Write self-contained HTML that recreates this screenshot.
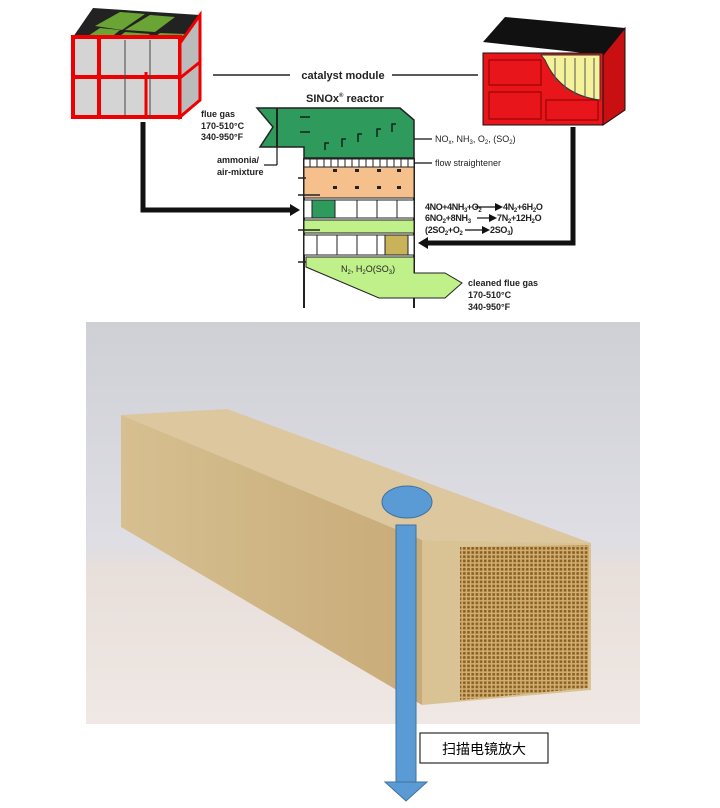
<!DOCTYPE html>
<html><head><meta charset="utf-8"><style>
html,body{margin:0;padding:0;background:#fff;width:720px;height:808px;overflow:hidden}
svg{display:block}
text{font-family:"Liberation Sans",Arial,sans-serif;font-weight:bold;fill:#222}
</style></head><body>
<svg width="720" height="808" viewBox="0 0 720 808" xmlns="http://www.w3.org/2000/svg">
<defs>
<linearGradient id="bg" x1="0" y1="0" x2="0" y2="1">
<stop offset="0" stop-color="#cfcfd6"/><stop offset="0.55" stop-color="#dedee4"/><stop offset="0.62" stop-color="#e8dfdb"/><stop offset="1" stop-color="#f0e8e4"/></linearGradient>
<linearGradient id="side" x1="0" y1="0" x2="1" y2="0"><stop offset="0" stop-color="#d6bf90"/><stop offset="1" stop-color="#c8ab78"/></linearGradient>
<pattern id="hc" width="4.2" height="4.2" patternUnits="userSpaceOnUse"><rect width="4.2" height="4.2" fill="#d0ad70"/><rect x="1" y="1" width="2.6" height="2.6" fill="#8a5e22"/></pattern>
</defs>

<polygon points="73,37 93,8 200,15 180,43" fill="#222"/>
<polygon points="95,26 120,12 145,14 122,30" fill="#6aa435"/>
<polygon points="125,30 150,15 175,17 155,32" fill="#6aa435"/>
<polygon points="88,36 100,28 120,30 108,40" fill="#6aa435"/>
<polygon points="115,40 125,32 150,34 140,42" fill="#6aa435"/>
<polygon points="148,42 160,33 185,34 175,43" fill="#6aa435"/>
<rect x="73" y="37" width="107" height="80" fill="#d4d4d4" stroke="#e00" stroke-width="4"/>
<polygon points="180,43 200,15 200,100 180,117" fill="#bbb" stroke="#e00" stroke-width="3"/>
<line x1="73" y1="77" x2="180" y2="77" stroke="#e00" stroke-width="4"/>
<line x1="99" y1="37" x2="99" y2="117" stroke="#e00" stroke-width="4"/>
<line x1="125" y1="40" x2="125" y2="117" stroke="#444" stroke-width="1"/>
<line x1="150" y1="40" x2="150" y2="117" stroke="#444" stroke-width="1"/>
<line x1="146" y1="72" x2="146" y2="117" stroke="#e00" stroke-width="3"/>
<line x1="180" y1="78" x2="200" y2="62" stroke="#e00" stroke-width="3"/>

<polygon points="483,42 505,17 625,28 603,55" fill="#111"/>
<rect x="483" y="53" width="120" height="72" fill="#e8161a" stroke="#111" stroke-width="1"/>
<polygon points="603,55 625,28 625,110 603,125" fill="#c80f12" stroke="#111" stroke-width="1"/>
<rect x="489" y="60" width="52" height="25" fill="none" stroke="#8a0000" stroke-width="1"/>
<rect x="489" y="92" width="52" height="27" fill="none" stroke="#8a0000" stroke-width="1"/>
<rect x="546" y="100" width="52" height="20" fill="none" stroke="#8a0000" stroke-width="1"/>
<path d="M541,55 L600,55 L600,100 Q560,95 545,60 Z" fill="#f4f29a" stroke="#333"/>
<g stroke="#555" stroke-width="1"><line x1="555" y1="58" x2="555" y2="82"/><line x1="565" y1="58" x2="565" y2="92"/><line x1="575" y1="58" x2="575" y2="96"/><line x1="585" y1="58" x2="585" y2="98"/><line x1="594" y1="58" x2="594" y2="99"/></g>

<line x1="213" y1="75" x2="290" y2="75" stroke="#222" stroke-width="1.5"/>
<line x1="392" y1="75" x2="478" y2="75" stroke="#222" stroke-width="1.5"/>
<text x="343" y="79" font-size="11" text-anchor="middle">catalyst module</text>
<text x="306" y="102" font-size="11">SINOx<tspan font-size="6" dy="-5">®</tspan><tspan dy="5"> reactor</tspan></text>

<polygon points="257,108 400,108 414,120 414,158 304,158 304,147 260,147 273,127" fill="#2e9a5c" stroke="#222" stroke-width="1.5"/>
<line x1="277" y1="108" x2="277" y2="147" stroke="#222" stroke-width="2"/>
<g stroke="#111" stroke-width="1.3" fill="none">
<path d="M300,117 h10"/><path d="M300,132 h10"/>
<path d="M325,150 v-7 h4"/><path d="M342,147 v-8 h4"/><path d="M358,142 v-8 h4"/><path d="M377,137 v-8 h4"/><path d="M392,132 v-8 h4"/>
</g>
<line x1="304" y1="158" x2="304" y2="308" stroke="#222" stroke-width="2"/>
<line x1="414" y1="158" x2="414" y2="308" stroke="#222" stroke-width="2"/>
<rect x="304" y="159" width="110" height="8" fill="#fff" stroke="#222"/>
<g stroke="#222"><line x1="310" y1="159" x2="310" y2="167"/><line x1="317" y1="159" x2="317" y2="167"/><line x1="324" y1="159" x2="324" y2="167"/><line x1="331" y1="159" x2="331" y2="167"/><line x1="338" y1="159" x2="338" y2="167"/><line x1="345" y1="159" x2="345" y2="167"/><line x1="352" y1="159" x2="352" y2="167"/><line x1="359" y1="159" x2="359" y2="167"/><line x1="366" y1="159" x2="366" y2="167"/><line x1="373" y1="159" x2="373" y2="167"/><line x1="380" y1="159" x2="380" y2="167"/><line x1="387" y1="159" x2="387" y2="167"/><line x1="394" y1="159" x2="394" y2="167"/><line x1="401" y1="159" x2="401" y2="167"/><line x1="408" y1="159" x2="408" y2="167"/></g>
<rect x="304" y="167" width="110" height="31" fill="#f5c08c" stroke="#222"/>
<g fill="#222"><rect x="333" y="169" width="4" height="3"/><rect x="355" y="169" width="4" height="3"/><rect x="377" y="169" width="4" height="3"/><rect x="397" y="169" width="4" height="3"/><rect x="333" y="186" width="4" height="3"/><rect x="355" y="186" width="4" height="3"/><rect x="377" y="186" width="4" height="3"/><rect x="397" y="186" width="4" height="3"/></g>
<rect x="304" y="200" width="110" height="18" fill="#fff" stroke="#222"/>
<rect x="312" y="200" width="23" height="18" fill="#2e9a5c" stroke="#222"/>
<g stroke="#222"><line x1="357" y1="200" x2="357" y2="218"/><line x1="377" y1="200" x2="377" y2="218"/><line x1="397" y1="200" x2="397" y2="218"/></g>
<rect x="304" y="220" width="110" height="13" fill="#bff08a" stroke="#222"/>
<rect x="304" y="235" width="110" height="20" fill="#fff" stroke="#222"/>
<rect x="385" y="235" width="23" height="20" fill="#c8b25a" stroke="#222"/>
<g stroke="#222"><line x1="317" y1="235" x2="317" y2="255"/><line x1="337" y1="235" x2="337" y2="255"/><line x1="357" y1="235" x2="357" y2="255"/><line x1="377" y1="235" x2="377" y2="255"/></g>
<polygon points="306,257 414,257 414,273 445,273 462,283 445,298 379,298 306,267" fill="#bff08a" stroke="#222"/>
<g stroke="#222" stroke-width="1.5"><line x1="298" y1="178" x2="306" y2="178"/><line x1="298" y1="195" x2="320" y2="195"/><line x1="298" y1="230" x2="320" y2="230"/><line x1="298" y1="262" x2="306" y2="262"/></g>

<polyline points="143,122 143,210 292,210" fill="none" stroke="#111" stroke-width="5"/>
<polygon points="290,204 300,210 290,216" fill="#111"/>
<polyline points="573,127 573,243 426,243" fill="none" stroke="#111" stroke-width="5"/>
<polygon points="428,237 418,243 428,249" fill="#111"/>

<g font-size="9">
<text x="201" y="117">flue gas</text><text x="201" y="129">170-510°C</text><text x="201" y="140">340-950°F</text>
<text x="217" y="163">ammonia/</text><text x="217" y="175">air-mixture</text>
<text x="435" y="142" style="font-weight:normal">NO<tspan font-size="6" dy="2">x</tspan><tspan dy="-2">, NH</tspan><tspan font-size="6" dy="2">3</tspan><tspan dy="-2">, O</tspan><tspan font-size="6" dy="2">2</tspan><tspan dy="-2">, (SO</tspan><tspan font-size="6" dy="2">2</tspan><tspan dy="-2">)</tspan></text>
<text x="435" y="166" style="font-weight:normal">flow straightener</text>
<text x="425" y="210" letter-spacing="-0.4">4NO+4NH<tspan font-size="6" dy="2">3</tspan><tspan dy="-2">+O</tspan><tspan font-size="6" dy="2">2</tspan></text>
<text x="503" y="210" letter-spacing="-0.3">4N<tspan font-size="6" dy="2">2</tspan><tspan dy="-2">+6H</tspan><tspan font-size="6" dy="2">2</tspan><tspan dy="-2">O</tspan></text>
<text x="425" y="221" letter-spacing="-0.3">6NO<tspan font-size="6" dy="2">2</tspan><tspan dy="-2">+8NH</tspan><tspan font-size="6" dy="2">3</tspan></text>
<text x="497" y="221" letter-spacing="-0.3">7N<tspan font-size="6" dy="2">2</tspan><tspan dy="-2">+12H</tspan><tspan font-size="6" dy="2">2</tspan><tspan dy="-2">O</tspan></text>
<text x="425" y="233" letter-spacing="-0.3">(2SO<tspan font-size="6" dy="2">2</tspan><tspan dy="-2">+O</tspan><tspan font-size="6" dy="2">2</tspan></text>
<text x="490" y="233" letter-spacing="-0.3">2SO<tspan font-size="6" dy="2">3</tspan><tspan dy="-2">)</tspan></text>
<text x="341" y="272" style="font-weight:normal" fill="#333">N<tspan font-size="6" dy="2">2</tspan><tspan dy="-2">, H</tspan><tspan font-size="6" dy="2">2</tspan><tspan dy="-2">O(SO</tspan><tspan font-size="6" dy="2">3</tspan><tspan dy="-2">)</tspan></text>
<text x="468" y="286">cleaned flue gas</text><text x="468" y="298">170-510°C</text><text x="468" y="310">340-950°F</text>
</g>
<g stroke="#111" stroke-width="1.2"><line x1="414" y1="139" x2="432" y2="139"/><line x1="414" y1="163" x2="432" y2="163"/><line x1="277" y1="147" x2="277" y2="165"/><line x1="264" y1="165" x2="277" y2="165"/>
<line x1="475" y1="207" x2="496" y2="207"/><line x1="477" y1="218" x2="490" y2="218"/><line x1="465" y1="230" x2="483" y2="230"/></g>
<g fill="#111"><polygon points="495,203 503,207 495,211"/><polygon points="489,214 497,218 489,222"/><polygon points="482,226 490,230 482,234"/></g>

<rect x="86" y="322" width="554" height="402" fill="url(#bg)"/>
<polygon points="121,415 227,409 591,543 422,540" fill="#dcc79f"/>
<polygon points="121,415 422,540 422,705 121,527" fill="url(#side)"/>
<polygon points="422,540 591,543 591,690 422,705" fill="#d9c394"/>
<polygon points="460,547 589,545 588,688 460,700" fill="url(#hc)"/>

<ellipse cx="407" cy="502" rx="25" ry="16" fill="#5b9bd5" stroke="#41719c" stroke-width="1"/>
<rect x="396" y="525" width="20" height="258" fill="#5b9bd5" stroke="#41719c" stroke-width="1"/>
<polygon points="385,782 427,782 406,801" fill="#5b9bd5" stroke="#41719c" stroke-width="1"/>
<rect x="420" y="733" width="128" height="30" fill="#fff" stroke="#000" stroke-width="1"/>
<text x="484" y="754" font-size="14" text-anchor="middle" style="font-family:'Liberation Sans','Noto Sans CJK SC',sans-serif;font-weight:normal;fill:#000">扫描电镜放大</text>
</svg>
</body></html>
